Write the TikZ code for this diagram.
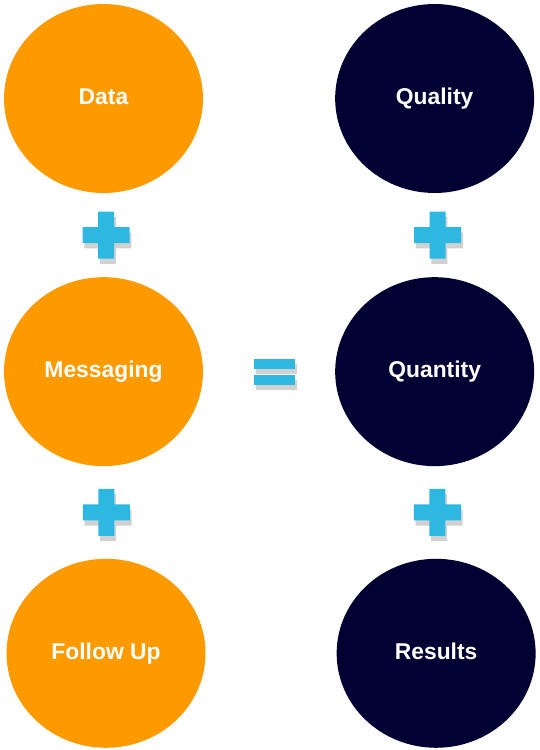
\documentclass[tikz,border=0pt]{standalone}
\usepackage{fontspec}
\setmainfont{Liberation Sans}
\usetikzlibrary{shapes.geometric,positioning,shadows,calc}
\definecolor{dataorange}{HTML}{FC9A00}
\definecolor{resultnavy}{HTML}{000033}
\definecolor{signblue}{HTML}{2DB8E2}
\tikzset{
    signshadow/.style={drop shadow={shadow xshift=1pt,shadow yshift=-3pt,
                       opacity=0.18,fill=black}},
}

\begin{document}
\begin{tikzpicture}[
    x=0.02cm, y=-0.02cm,
    node distance=1.67cm,
    input/.style={ellipse,fill=dataorange,minimum width=3.98cm,minimum height=3.78cm,
                  inner sep=0pt,text=white,text height=0.85em,text depth=0.15em,
                  font=\bfseries\fontsize{13}{15}\selectfont},
    output/.style={input,fill=resultnavy},
    sign/.style={fill=signblue,signshadow},
]
    \useasboundingbox (0,0) rectangle (539,750);

    % ---- left column ----
    \node[input] (data) at (103.5,98.5) {Data};
    \node[input, below=1.67cm of data] (msg) {Messaging};
    \node[input, below=1.84cm of msg, xshift=0.05cm] (follow) {Follow Up};

    % ---- right column ----
    \node[output, right=2.63cm of data] (quality) {Quality};
    \node[output, below=1.67cm of quality] (quantity) {Quantity};
    \node[output, below=1.84cm of quantity, xshift=0.03cm] (results) {Results};

    % ---- signs ----
    \coordinate (p1) at ($(data.south)!0.5!(msg.north)+(2.5,0)$);
    \coordinate (p2) at ($(msg.south)!0.5!(follow.north)+(1.5,0)$);
    \coordinate (p3) at ($(quality.south)!0.5!(quantity.north)+(3,0)$);
    \coordinate (p4) at ($(quantity.south)!0.5!(results.north)+(2,0)$);
    \foreach \p in {p1,p2,p3,p4}
        \fill[sign] (\p) ++(-8,-23.5) -- ++(16,0) -- ++(0,15.5) -- ++(15.5,0)
            -- ++(0,16) -- ++(-15.5,0) -- ++(0,15.5) -- ++(-16,0) -- ++(0,-15.5)
            -- ++(-15.5,0) -- ++(0,-16) -- ++(15.5,0) -- cycle;

    \coordinate (eq) at ($(msg.east)!0.5!(quantity.west)+(5.5,0)$);
    \fill[sign] (eq) ++(-20.5,-12.5) rectangle ++(41,10);
    \fill[sign] (eq) ++(-20.5,3.5) rectangle ++(41,9.5);

\end{tikzpicture}
\end{document}
